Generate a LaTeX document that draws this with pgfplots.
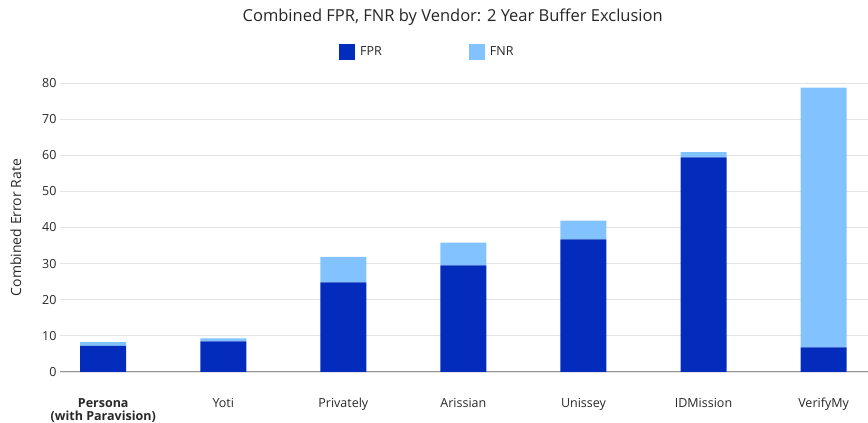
\documentclass[border=0pt]{standalone}
\usepackage{pgfplots}
\pgfplotsset{compat=1.18}
\usepackage{fontspec}
\setmainfont{Open Sans}
\definecolor{fpr}{RGB}{3,44,189}
\definecolor{fnr}{RGB}{130,195,255}
\definecolor{gridc}{RGB}{228,228,228}
\definecolor{axc}{RGB}{150,150,150}
\definecolor{txt}{RGB}{40,40,40}
\begin{document}
\begin{tikzpicture}[x=1pt,y=1pt]
\begin{axis}[
  at={(0,0)}, anchor=south west,
  scale only axis, width=808pt, height=289pt,
  ybar stacked, bar width=46pt,
  xmin=-0.36, xmax=6.37, ymin=0, ymax=80,
  xtick={0,...,6},
  xticklabels={{\begin{tabular}[t]{@{}c@{}}\textbf{Persona}\\\textbf{(with Paravision)}\end{tabular}},Yoti,Privately,Arissian,Unissey,IDMission,VerifyMy},
  xticklabel style={font=\fontsize{12.5}{13}\selectfont, text=txt, anchor=base, yshift=-35pt},
  ytick={0,10,...,80},
  yticklabel style={font=\fontsize{12.5}{13}\selectfont, text=txt},
  /pgf/number format/assume math mode=true,
  major tick length=0pt,
  axis x line*=bottom, axis y line*=left,
  x axis line style={axc, line width=1pt},
  y axis line style={draw=none},
  ymajorgrids, grid style={gridc, line width=0.8pt},
  ylabel={Combined Error Rate},
  ylabel style={font=\fontsize{14}{15}\selectfont, text=txt, yshift=14pt},
  title={Combined FPR, FNR by Vendor: 2 Year Buffer Exclusion},
  title style={at={(0.486,1.208)}, anchor=center, font=\fontsize{16.5}{17}\selectfont, text=black!85},
  legend columns=2,
  legend style={at={(0.3416,1.107)}, anchor=west, draw=none, font=\fontsize{12.5}{13}\selectfont, text=txt,
    /tikz/every odd column/.append style={column sep=3pt},
    /tikz/every even column/.append style={column sep=85pt}},
  legend image code/.code={\fill[#1,draw=none] (0pt,-8pt) rectangle (16pt,8pt);},
]
\addplot[fill=fpr, draw=none] coordinates {(0,7.2) (1,8.5) (2,24.8) (3,29.5) (4,36.7) (5,59.4) (6,6.8)};
\addplot[fill=fnr, draw=none] coordinates {(0,1.1) (1,0.8) (2,7.1) (3,6.3) (4,5.2) (5,1.5) (6,71.9)};
\legend{FPR,FNR}
\end{axis}
\pgfresetboundingbox
\path[use as bounding box] (-60,-51) rectangle (808,372);
\end{tikzpicture}
\end{document}
